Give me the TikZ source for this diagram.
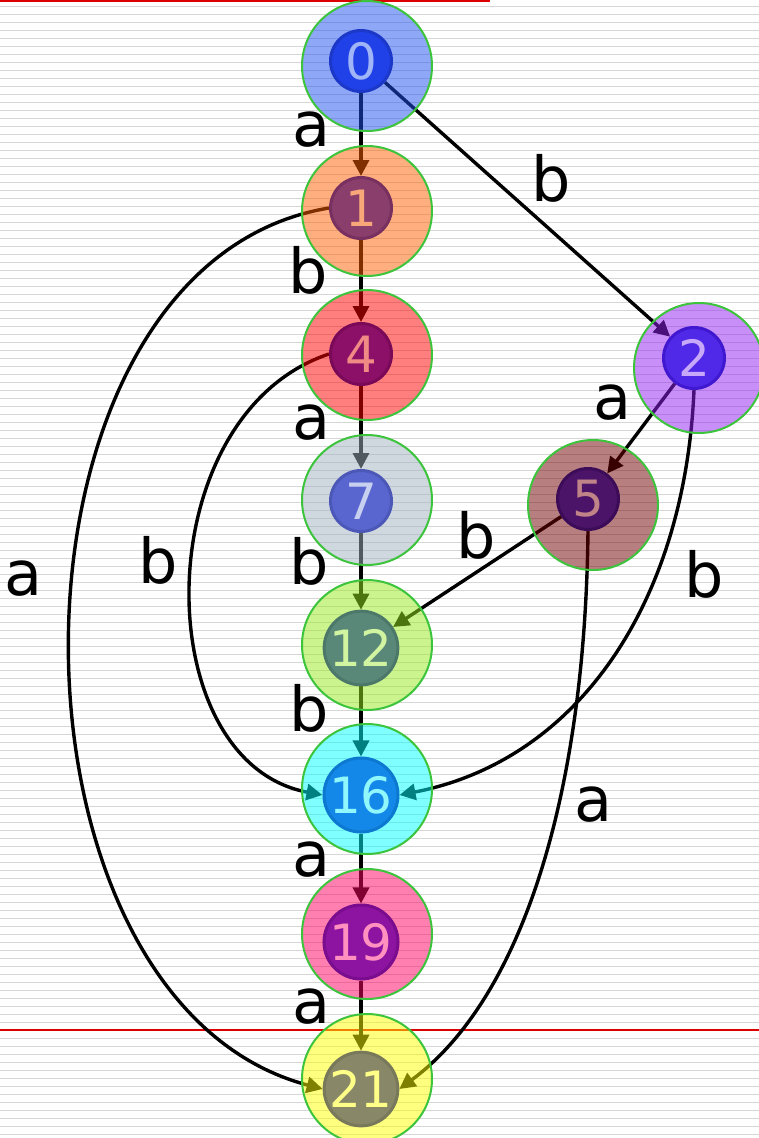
\documentclass[tikz,border=0pt]{standalone}
\usepackage{fontspec}
\setmainfont{DejaVu Sans}
\usetikzlibrary{arrows.meta}
\pgfdeclarelayer{bg}
\pgfdeclarelayer{edges}
\pgfdeclarelayer{big}
\pgfsetlayers{bg,edges,big,main}
% big circle base colours (drawn at 50% opacity)
\definecolor{b0}{RGB}{31,81,241}
\definecolor{b1}{RGB}{255,97,0}
\definecolor{b4}{RGB}{255,0,0}
\definecolor{b7}{RGB}{161,177,193}
\definecolor{b12}{RGB}{153,235,33}
\definecolor{b16}{RGB}{0,255,255}
\definecolor{b19}{RGB}{255,0,100}
\definecolor{b21}{RGB}{255,255,0}
\definecolor{b2}{RGB}{145,33,241}
\definecolor{b5}{RGB}{113,0,0}
% small circle fill / border / text
\definecolor{s0}{RGB}{32,64,232}\definecolor{d0}{RGB}{28,56,200}\definecolor{t0}{RGB}{160,180,248}
\definecolor{s1}{RGB}{138,62,108}\definecolor{d1}{RGB}{120,48,96}\definecolor{t1}{RGB}{248,168,120}
\definecolor{s4}{RGB}{140,16,104}\definecolor{d4}{RGB}{122,10,88}\definecolor{t4}{RGB}{240,138,132}
\definecolor{s7}{RGB}{90,102,208}\definecolor{d7}{RGB}{76,88,184}\definecolor{t7}{RGB}{200,208,240}
\definecolor{s12}{RGB}{90,136,120}\definecolor{d12}{RGB}{76,120,106}\definecolor{t12}{RGB}{208,244,160}
\definecolor{s16}{RGB}{20,136,232}\definecolor{d16}{RGB}{12,120,208}\definecolor{t16}{RGB}{144,248,252}
\definecolor{s19}{RGB}{140,20,160}\definecolor{d19}{RGB}{122,12,142}\definecolor{t19}{RGB}{255,144,192}
\definecolor{s21}{RGB}{136,136,104}\definecolor{d21}{RGB}{120,120,90}\definecolor{t21}{RGB}{255,255,136}
\definecolor{s2}{RGB}{80,40,232}\definecolor{d2}{RGB}{64,24,208}\definecolor{t2}{RGB}{200,168,248}
\definecolor{s5}{RGB}{76,20,104}\definecolor{d5}{RGB}{60,12,88}\definecolor{t5}{RGB}{192,132,136}
\definecolor{stripe}{RGB}{214,214,214}
\definecolor{ring}{RGB}{60,196,60}
\definecolor{redline}{RGB}{220,0,0}
\begin{document}
\begin{tikzpicture}[x=1pt,y=-1pt,
  smallnode/.style={circle, inner sep=0pt, minimum size=61pt, line width=3pt,
    font=\fontsize{50}{60}\selectfont},
  bignode/.style={circle, inner sep=0pt, minimum size=130pt, draw=ring, line width=2pt,
    fill opacity=0.5},
  edge/.style={line width=3.4pt, -{Triangle[length=16pt,width=16pt]}},
  lab/.style={font=\fontsize{62}{74}\selectfont, inner sep=0pt}]
\useasboundingbox (0,0) rectangle (759,1138);
\begin{pgfonlayer}{bg}
  \fill[white] (0,0) rectangle (759,1138);
  \foreach \k in {0,...,141}
    \draw[stripe, line width=1.8pt] (0,{6.5+8*\k}) -- (759,{6.5+8*\k});
  \draw[redline, line width=2pt] (0,1) -- (490,1);
  \draw[redline, line width=1.3pt] (0,1030) -- (759,1030);
\end{pgfonlayer}
% small nodes
\node[smallnode, fill=s0, draw=d0, text=t0] (n0) at (361,61) {0};
\node[smallnode, fill=s1, draw=d1, text=t1] (n1) at (361,208) {1};
\node[smallnode, fill=s4, draw=d4, text=t4] (n4) at (361,354) {4};
\node[smallnode, fill=s7, draw=d7, text=t7] (n7) at (361,501) {7};
\node[smallnode, fill=s12, draw=d12, text=t12] (n12) at (361,648) {12};
\node[smallnode, fill=s16, draw=d16, text=t16] (n16) at (361,795) {16};
\node[smallnode, fill=s19, draw=d19, text=t19] (n19) at (361,942) {19};
\node[smallnode, fill=s21, draw=d21, text=t21] (n21) at (361,1089) {21};
\node[smallnode, fill=s2, draw=d2, text=t2] (n2) at (694,358) {2};
\node[smallnode, fill=s5, draw=d5, text=t5] (n5) at (588,499) {5};
% big translucent halos
\begin{pgfonlayer}{big}
\node[bignode, fill=b0] (h0) at (367,66) {};
\node[bignode, fill=b1] (h1) at (367,211) {};
\node[bignode, fill=b4] (h4) at (367,355) {};
\node[bignode, fill=b7] (h7) at (367,500) {};
\node[bignode, fill=b12] (h12) at (367,645) {};
\node[bignode, fill=b16] (h16) at (367,789) {};
\node[bignode, fill=b19] (h19) at (367,934) {};
\node[bignode, fill=b21] (h21) at (367,1079) {};
\node[bignode, fill=b2] (h2) at (699,368) {};
\node[bignode, fill=b5] (h5) at (593,505) {};
\end{pgfonlayer}
% edges
\begin{pgfonlayer}{edges}
\draw[edge] (n0) -- (n1);
\draw[edge] (n1) -- (n4);
\draw[edge] (n4) -- (n7);
\draw[edge] (n7) -- (n12);
\draw[edge] (n12) -- (n16);
\draw[edge] (n16) -- (n19);
\draw[edge] (n19) -- (n21);
\draw[edge] (n0) -- (n2);
\draw[edge] (n2) -- (n5);
\draw[edge] (n5) -- (n12);
\draw[edge] (n1.west) .. controls (-15,265) and (-15,1000) .. (n21.west);
\draw[edge] (n4.west) .. controls (146,415) and (146,762) .. (n16.west);
\draw[edge] (n2.south) .. controls (685,600) and (580,760) .. (n16.east);
\draw[edge] (n5.south) .. controls (585,800) and (520,1000) .. (n21.east);
\end{pgfonlayer}
% labels
\node[lab] (l01) at (311,130) {a};
\node[lab] (l02) at (551,178) {b};
\node[lab] (l14) at (308,270) {b};
\node[lab] (l47) at (311,423) {a};
\node[lab] (l25) at (612,403) {a};
\node[lab] (l121) at (23,579) {a};
\node[lab] (l416) at (158,560) {b};
\node[lab] (l712) at (309,561) {b};
\node[lab] (l512) at (476,535) {b};
\node[lab] (l216) at (704,574) {b};
\node[lab] (l1216) at (309,708) {b};
\node[lab] (l521) at (593,805) {a};
\node[lab] (l1619) at (311,860) {a};
\node[lab] (l1921) at (311,1007) {a};
\end{tikzpicture}
\end{document}
